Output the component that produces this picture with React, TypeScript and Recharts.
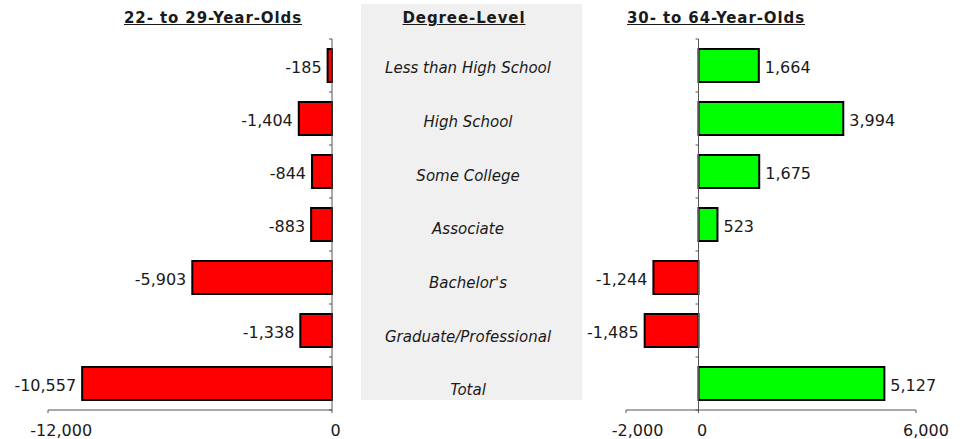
import React from 'react';
import { BarChart, Bar, XAxis, YAxis, ReferenceLine, LabelList, Cell } from 'recharts';

const categories = ['Less than High School', 'High School', 'Some College', 'Associate', "Bachelor's", 'Graduate/Professional', 'Total'];
const young = [-185, -1404, -844, -883, -5903, -1338, -10557];
const older = [1664, 3994, 1675, 523, -1244, -1485, 5127];
const youngTicks = [-12000, 0];
const olderTicks = [-2000, 0, 6000];
const youngDomain = [-12000, 0];
const olderDomain = [-2000, 6000];
const youngTitle = '22- to 29-Year-Olds';
const olderTitle = '30- to 64-Year-Olds';
const middleTitle = 'Degree-Level';

const youngData = categories.map((c, i) => ({ cat: c, v: young[i] }));
const olderData = categories.map((c, i) => ({ cat: c, v: older[i] }));

const FONT = '"DejaVu Sans", Verdana, sans-serif';
const TEXT = '#1a1a1a';
const AXIS = '#555555';
const fmt = (v: number) => v.toLocaleString('en-US');

const PLOT_H = 371;
const BAND = PLOT_H / categories.length;
const OLDER_PLOT_W = 290;
const olderZeroOffset = ((0 - olderDomain[0]) / (olderDomain[1] - olderDomain[0])) * OLDER_PLOT_W;

const AxisTick = (props: any) => {
  const { x, y, payload } = props;
  const label = fmt(payload.value);
  const dx = 2 + label.length * 1.6;
  return (
    <text x={x + dx} y={y} dy="0.71em" textAnchor="middle" fontFamily={FONT} fontSize={16} fill={TEXT}>
      {label}
    </text>
  );
};

const BoundaryTick = (props: any) => {
  const { x, y, index, shift = 0 } = props;
  const zx = x + shift;
  const top = y - BAND / 2;
  const last = index === categories.length - 1;
  return (
    <g>
      <line x1={zx - 3} x2={zx} y1={top} y2={top} stroke={AXIS} />
      {last ? <line x1={zx - 3} x2={zx} y1={y + BAND / 2} y2={y + BAND / 2} stroke={AXIS} /> : null}
    </g>
  );
};

const ValueLabel = (props: any) => {
  const { x, y, width, height, value } = props;
  const left = Math.min(x, x + width);
  const right = Math.max(x, x + width);
  const neg = value < 0;
  const tx = neg ? left - 6 : right + 6;
  return (
    <text x={tx} y={y + height / 2 + 2} dominantBaseline="central" textAnchor={neg ? 'end' : 'start'} fontFamily={FONT} fontSize={16} fill={TEXT}>
      {fmt(value)}
    </text>
  );
};

const MID_CENTER = 107;
const CatTick = (props: any) => {
  const { y, payload } = props;
  return (
    <text x={MID_CENTER} y={y} dy="0.355em" textAnchor="middle" fontFamily={FONT} fontSize={15} fontStyle="italic" fill={TEXT}>
      {payload.value}
    </text>
  );
};

const titleStyle = (left: number, width: number): React.CSSProperties => ({
  position: 'absolute',
  left,
  width,
  top: 9,
  textAlign: 'center',
  fontFamily: FONT,
  fontWeight: 'bold',
  fontSize: 15,
  letterSpacing: '0.9px',
  lineHeight: '18px',
  textDecoration: 'underline',
  color: TEXT,
  whiteSpace: 'nowrap',
});

export default function App() {
  return (
    <div style={{ position: 'absolute', left: 0, top: 0, width: 969, height: 439, background: '#ffffff', overflow: 'hidden' }}>
      <div style={{ position: 'absolute', left: 361, top: 4, width: 221, height: 396, background: '#f0f0f0' }} />
      <div style={titleStyle(113, 200)}>{youngTitle}</div>
      <div style={titleStyle(364, 200)}>{middleTitle}</div>
      <div style={titleStyle(616, 200)}>{olderTitle}</div>

      <div style={{ position: 'absolute', left: 0, top: 0 }}>
        <BarChart width={400} height={439} data={youngData} layout="vertical" margin={{ top: 39, right: 67, bottom: 0, left: 48 }} barSize={33}>
          <XAxis type="number" domain={youngDomain} ticks={youngTicks} height={29} axisLine={{ stroke: AXIS }} tickLine={{ stroke: AXIS }} tickSize={3} tickMargin={12} tick={<AxisTick />} interval={0} />
          <YAxis type="category" dataKey="cat" orientation="right" width={1} axisLine={false} tickLine={false} tickSize={0} tickMargin={0} tick={<BoundaryTick />} interval={0} />
          <ReferenceLine x={0} stroke={AXIS} />
          <Bar dataKey="v" fill="#ff0000" stroke="#000000" strokeWidth={2} isAnimationActive={false}>
            <LabelList dataKey="v" content={<ValueLabel />} />
          </Bar>
        </BarChart>
      </div>

      <div style={{ position: 'absolute', left: 361, top: 0 }}>
        <BarChart width={221} height={439} data={youngData} layout="vertical" margin={{ top: 41, right: 0, bottom: 22, left: 0 }}>
          <XAxis type="number" hide domain={[0, 1]} />
          <YAxis type="category" dataKey="cat" width={100} axisLine={false} tickLine={false} tick={<CatTick />} interval={0} />
        </BarChart>
      </div>

      <div style={{ position: 'absolute', left: 560, top: 0 }}>
        <BarChart width={409} height={439} data={olderData} layout="vertical" margin={{ top: 39, right: 53, bottom: 0, left: 65 }} barSize={33}>
          <XAxis type="number" domain={olderDomain} ticks={olderTicks} height={29} axisLine={{ stroke: AXIS }} tickLine={{ stroke: AXIS }} tickSize={3} tickMargin={12} tick={<AxisTick />} interval={0} />
          <YAxis type="category" dataKey="cat" orientation="left" width={1} axisLine={false} tickLine={false} tickSize={0} tickMargin={0} tick={<BoundaryTick shift={olderZeroOffset} />} interval={0} />
          <ReferenceLine x={0} stroke={AXIS} />
          <Bar dataKey="v" stroke="#000000" strokeWidth={2} isAnimationActive={false}>
            {older.map((v, i) => (
              <Cell key={i} fill={v < 0 ? '#ff0000' : '#00ff00'} />
            ))}
            <LabelList dataKey="v" content={<ValueLabel />} />
          </Bar>
        </BarChart>
      </div>
    </div>
  );
}
